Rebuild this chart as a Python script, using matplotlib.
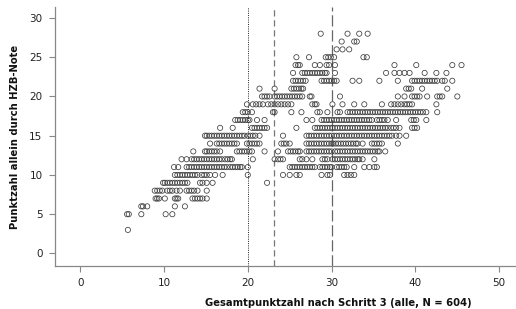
import numpy as np
import matplotlib
matplotlib.use('Agg')
import matplotlib.pyplot as plt

# Gesamtpunktzahl (x) for each HZB score row (y)
pts_03 = [5.7]
pts_05 = [5.6, 5.8, 7.3, 10.2, 11.0]
pts_06 = [7.3, 7.5, 8.0, 11.3, 12.5]
pts_07 = [9.0, 9.2, 9.4, 10.1, 11.3, 11.5, 11.7, 13.4, 13.7, 14.0, 14.3, 14.6, 15.1]
pts_08 = [8.9, 9.2, 9.5, 9.8, 10.4, 10.7, 11.0, 11.5, 11.9, 12.7, 13.0, 13.3, 13.6,
          14.0, 15.1]
pts_09 = [9.9, 10.1, 10.4, 10.7, 11.0, 11.3, 11.6, 11.9, 12.2, 12.5, 12.8, 14.3, 14.6,
          15.1, 15.8, 22.3]
pts_10 = [11.3, 11.6, 11.9, 12.2, 12.5, 12.8, 13.1, 13.4, 13.7, 14.0, 14.5, 14.8, 15.1,
          15.5, 16.1, 17.0, 20.0, 24.2, 25.0, 25.8, 26.2, 28.8, 29.5, 29.8, 31.5, 31.9,
          32.3, 32.7]
pts_11 = [11.2, 11.7, 12.7, 13.0, 13.3, 13.6, 13.9, 14.2, 14.5, 14.8, 15.1, 15.4, 15.7,
          16.0, 16.3, 16.6, 16.9, 17.2, 17.5, 17.9, 18.2, 18.5, 18.8, 19.1, 19.3, 20.0,
          25.0, 25.3, 25.6, 25.9, 26.2, 26.5, 26.8, 27.1, 27.4, 27.7, 28.0, 28.6, 28.9,
          29.2, 29.5, 29.8, 30.0, 30.6, 30.9, 31.2, 31.5, 31.8, 32.7, 33.9, 34.5, 35.1,
          35.4]
pts_12 = [12.1, 12.7, 13.3, 13.6, 13.9, 14.2, 14.5, 14.8, 15.1, 15.4, 15.7, 16.0, 16.3,
          16.6, 16.9, 17.3, 17.6, 17.9, 18.1, 20.6, 23.2, 23.6, 23.9, 24.2, 26.2, 26.5,
          27.0, 27.7, 28.9, 29.2, 29.5, 30.1, 30.4, 30.7, 31.0, 31.3, 31.6, 31.9, 32.2,
          32.5, 32.8, 33.1, 33.3, 33.7, 35.1]
pts_13 = [13.5, 14.9, 15.1, 15.4, 15.7, 16.0, 16.3, 16.7, 18.7, 19.0, 19.3, 19.6, 19.9,
          20.2, 20.5, 22.0, 23.6, 24.8, 25.1, 25.4, 25.7, 26.0, 26.2, 27.0, 27.3, 27.6,
          27.9, 28.2, 28.5, 28.8, 29.1, 29.4, 29.7, 30.0, 30.4, 30.7, 31.0, 31.3, 31.6,
          31.9, 32.2, 32.5, 32.8, 33.1, 33.4, 33.7, 34.0, 34.3, 34.6, 34.9, 35.2, 35.5,
          35.7, 36.4]
pts_14 = [15.5, 16.3, 16.6, 16.9, 17.2, 17.5, 17.8, 18.1, 18.4, 18.7, 19.9, 20.2, 20.5,
          20.8, 21.1, 21.4, 24.0, 24.3, 24.6, 25.0, 27.0, 27.3, 27.6, 27.9, 28.2, 28.5,
          28.8, 29.1, 29.4, 29.7, 30.0, 30.2, 30.5, 30.8, 31.1, 31.4, 31.7, 32.0, 32.3,
          32.6, 32.9, 33.1, 33.7, 34.8, 35.1, 35.4, 35.7, 36.0, 37.9]
pts_15 = [14.9, 15.1, 15.4, 15.7, 16.0, 16.3, 16.6, 16.9, 17.2, 17.5, 17.8, 18.1, 18.4,
          18.7, 19.0, 19.3, 19.6, 20.0, 20.3, 20.6, 20.9, 21.4, 24.2, 27.0, 27.3, 27.6,
          27.9, 28.2, 28.5, 28.8, 29.1, 29.4, 29.7, 30.0, 30.3, 30.6, 30.9, 31.2, 31.5,
          31.8, 32.1, 32.4, 32.7, 33.0, 33.3, 33.6, 33.9, 34.2, 34.5, 34.8, 35.1, 35.4,
          35.7, 36.0, 36.3, 36.6, 36.9, 37.2, 37.7, 38.1, 38.9]
pts_16 = [16.7, 18.2, 20.5, 20.8, 21.1, 21.4, 21.7, 22.0, 22.3, 25.8, 28.0, 28.3, 28.6,
          28.9, 29.2, 29.5, 29.8, 30.1, 30.4, 30.7, 31.0, 31.3, 31.6, 31.9, 32.2, 32.5,
          32.8, 33.1, 33.4, 33.7, 34.0, 34.3, 34.6, 34.9, 35.2, 35.5, 35.8, 36.1, 36.4,
          36.7, 37.1, 37.4, 37.7, 38.1, 39.6, 39.9, 40.2]
pts_17 = [18.5, 18.8, 19.1, 19.4, 19.7, 20.0, 20.2, 21.1, 22.0, 27.0, 27.7, 28.8, 29.1,
          29.4, 29.7, 30.0, 30.3, 30.6, 30.9, 31.2, 31.5, 31.8, 32.1, 32.4, 32.7, 33.0,
          33.3, 33.6, 33.9, 34.2, 34.5, 34.8, 35.4, 35.7, 36.0, 36.3, 36.7, 37.7, 39.5,
          39.8, 40.1, 41.3]
pts_18 = [19.4, 19.7, 20.0, 20.5, 23.0, 23.2, 25.2, 26.4, 28.3, 28.6, 29.5, 30.7, 31.0,
          31.9, 32.2, 32.5, 32.8, 33.1, 33.4, 33.7, 34.0, 34.3, 34.6, 34.9, 35.2, 35.5,
          35.8, 36.1, 36.4, 36.7, 37.0, 37.3, 37.6, 37.9, 38.2, 38.5, 38.8, 39.1, 39.4,
          39.7, 40.0, 40.3, 40.6, 40.9, 41.3, 42.6]
pts_19 = [19.9, 20.6, 21.0, 21.4, 21.8, 22.4, 22.8, 23.2, 23.6, 24.0, 24.4, 24.8, 25.2,
          27.7, 28.0, 28.2, 30.1, 31.3, 32.7, 33.9, 36.0, 37.1, 37.5, 37.9, 38.3, 38.7,
          39.0, 39.3, 39.6, 42.5]
pts_20 = [21.7, 22.0, 22.3, 22.6, 23.2, 23.5, 23.8, 24.1, 24.4, 24.7, 25.0, 25.3, 25.6,
          25.9, 26.2, 26.5, 27.4, 27.6, 31.0, 37.9, 38.7, 39.6, 39.9, 40.2, 40.5, 41.4,
          42.6, 42.9, 43.2, 45.0]
pts_21 = [21.4, 23.2, 25.2, 25.5, 25.8, 26.1, 26.4, 26.6, 38.9, 39.2, 39.5, 40.8, 43.8]
pts_22 = [25.4, 25.7, 26.0, 26.3, 26.6, 26.9, 28.8, 29.1, 29.4, 29.7, 30.0, 30.3, 30.6,
          32.5, 33.3, 35.7, 37.9, 39.6, 39.9, 40.2, 40.5, 40.8, 41.1, 41.4, 41.7, 42.0,
          42.3, 42.6, 43.2, 43.5, 44.4]
pts_23 = [25.4, 26.5, 26.8, 27.1, 27.4, 27.7, 28.0, 28.3, 28.6, 28.9, 29.2, 29.4, 30.4,
          36.5, 37.5, 38.1, 38.7, 39.3, 41.1, 42.5, 43.7]
pts_24 = [25.7, 26.0, 26.2, 28.0, 28.6, 29.4, 29.7, 30.4, 37.5, 40.1, 44.4, 45.5]
pts_25 = [25.8, 27.3, 29.3, 29.6, 29.9, 30.3, 33.8, 34.2]
pts_26 = [30.6, 31.3, 32.1]
pts_27 = [31.2, 32.7, 33.0]
pts_28 = [28.7, 31.9, 33.3, 34.3]

row_scores = [3, 5, 6, 7, 8, 9, 10, 11, 12, 13, 14, 15, 16, 17, 18, 19, 20, 21, 22,
              23, 24, 25, 26, 27, 28]
row_points = [pts_03, pts_05, pts_06, pts_07, pts_08, pts_09, pts_10, pts_11, pts_12,
              pts_13, pts_14, pts_15, pts_16, pts_17, pts_18, pts_19, pts_20, pts_21,
              pts_22, pts_23, pts_24, pts_25, pts_26, pts_27, pts_28]

x_ticks = [0, 10, 20, 30, 40, 50]
y_ticks = [0, 5, 10, 15, 20, 25, 30]
# reference lines: dotted, dashed, long dashed
ref_lines = [20, 23.1, 30]

x = np.concatenate([np.asarray(p, float) for p in row_points])
y = np.concatenate([np.full(len(p), s, float) for s, p in zip(row_scores, row_points)])

fig = plt.figure(figsize=(5.16, 3.09), dpi=100)
ax = fig.add_axes([55/516, 1-266/309, 1-55/516, (266-7)/309])

ax.scatter(x, y, s=14, facecolors='none', edgecolors='#3c3c3c', linewidths=0.55,
           zorder=3)

ax.axvline(ref_lines[0], color='#222222', lw=0.7, linestyle=(0, (1, 1.3)), zorder=2)
ax.axvline(ref_lines[1], color='#777777', lw=0.9, linestyle=(0, (5, 3)), zorder=2)
ax.axvline(ref_lines[2], color='#666666', lw=0.9, linestyle=(0, (9, 3)), zorder=2)

ax.set_xlim(-3.0, 52.0)
ax.set_ylim(-1.6, 31.4)
ax.set_xticks(x_ticks)
ax.set_yticks(y_ticks)

for side in ['top', 'right']:
    ax.spines[side].set_visible(False)
for side in ['left', 'bottom']:
    ax.spines[side].set_color('#888888')
    ax.spines[side].set_linewidth(0.9)
ax.tick_params(direction='out', length=4, width=0.8, color='#888888',
               labelsize=7.5, labelcolor='#222222', pad=5)

ax.set_xlabel('Gesamtpunktzahl nach Schritt 3 (alle, N = 604)', fontsize=7.2,
              fontweight='bold', color='#111111', x=0.614, labelpad=7)
ax.set_ylabel('Punktzahl allein durch HZB-Note', fontsize=7.2, fontweight='bold',
              color='#111111', labelpad=7)

fig.savefig('out.png', dpi=100)
